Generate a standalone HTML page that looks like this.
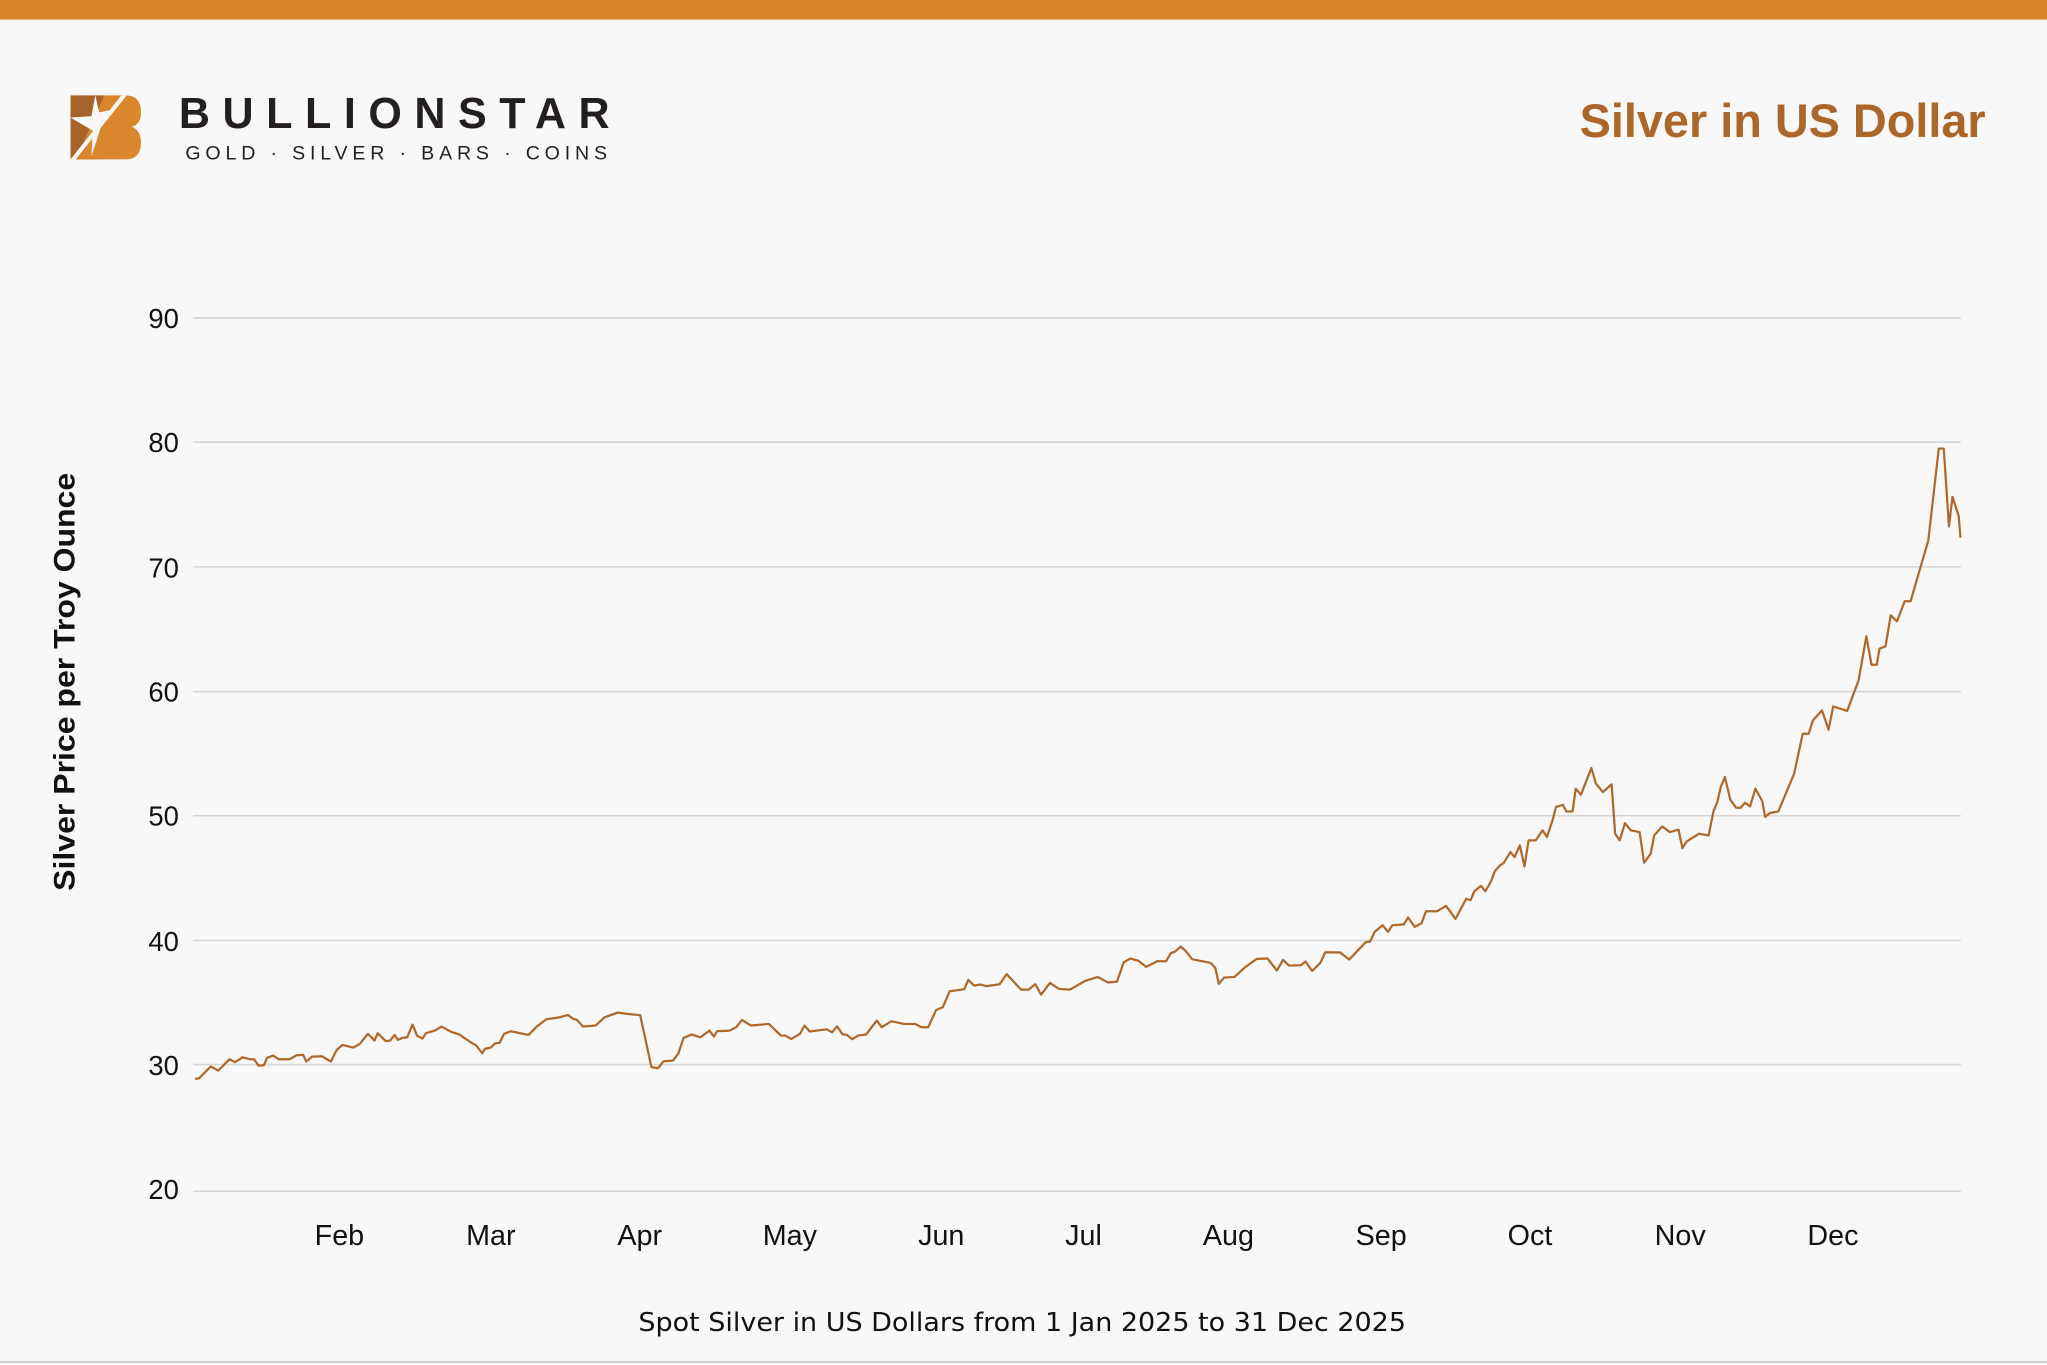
<!DOCTYPE html>
<html><head><meta charset="utf-8"><style>
html,body{margin:0;padding:0;background:#f8f8f8;}
svg{display:block;}
</style></head><body>
<svg width="2047" height="1365" viewBox="0 0 1568 1045" preserveAspectRatio="none" xmlns="http://www.w3.org/2000/svg">
<rect x="0" y="0" width="1568" height="1045" fill="#f8f8f8"/>
<rect x="0" y="0" width="1568" height="15" fill="#d9852a"/>
<rect x="0" y="1042" width="1568" height="1.5" fill="#cfcfcf"/>
<g>
<path d="M54,73 L80,73 L80,122 L54,122 Z" fill="#a8632a"/>
<path d="M80,73 L96,73 Q108,73 108,86 Q108,95 101,97 Q108,100 108,109 Q108,122 96,122 L58,122 Z" fill="#d9862c"/>
<path d="M54,122 L58,122 L97,73 L93,73 Z" fill="#f8f8f8"/>
<path d="M73,73 L76,86 L86,84 L78,95 L70,120 L71,100 L54,90 L70,89 Z" fill="#f8f8f8"/>
<text x="137" y="98" font-family="Liberation Sans, sans-serif" font-weight="bold" font-size="33" fill="#231f20" textLength="330" lengthAdjust="spacing">BULLIONSTAR</text>
<text x="142" y="122" font-family="Liberation Sans, sans-serif" font-size="15" fill="#231f20" textLength="323" lengthAdjust="spacing">GOLD · SILVER · BARS · COINS</text>
</g>
<text x="1521" y="105" text-anchor="end" font-family="Liberation Sans, sans-serif" font-weight="bold" font-size="36" fill="#ab6629" textLength="311" lengthAdjust="spacingAndGlyphs">Silver in US Dollar</text>
<g stroke="#d6d6d6" stroke-width="1.2">
<line x1="148" y1="243.5" x2="1502" y2="243.5"/>
<line x1="148" y1="338.5" x2="1502" y2="338.5"/>
<line x1="148" y1="434" x2="1502" y2="434"/>
<line x1="148" y1="529.5" x2="1502" y2="529.5"/>
<line x1="148" y1="624.5" x2="1502" y2="624.5"/>
<line x1="148" y1="720" x2="1502" y2="720"/>
<line x1="148" y1="815" x2="1502" y2="815"/>
<line x1="148" y1="912" x2="1502" y2="912"/>
</g>
<g font-family="Liberation Sans Narrow, Liberation Sans, sans-serif" font-size="21" fill="#111" text-anchor="end">
<text x="137" y="251">90</text>
<text x="137" y="346">80</text>
<text x="137" y="442">70</text>
<text x="137" y="537">60</text>
<text x="137" y="632">50</text>
<text x="137" y="728">40</text>
<text x="137" y="823">30</text>
<text x="137" y="918">20</text>
</g>
<g font-family="Liberation Sans Narrow, Liberation Sans, sans-serif" font-size="22" fill="#111" text-anchor="middle">
<text x="260" y="953">Feb</text>
<text x="376" y="953">Mar</text>
<text x="490" y="953">Apr</text>
<text x="605" y="953">May</text>
<text x="721" y="953">Jun</text>
<text x="830" y="953">Jul</text>
<text x="941" y="953">Aug</text>
<text x="1058" y="953">Sep</text>
<text x="1172" y="953">Oct</text>
<text x="1287" y="953">Nov</text>
<text x="1404" y="953">Dec</text>
</g>
<text transform="translate(57,522) rotate(-90)" text-anchor="middle" font-family="Liberation Sans, sans-serif" font-weight="bold" font-size="23" fill="#111" textLength="320" lengthAdjust="spacingAndGlyphs">Silver Price per Troy Ounce</text>
<text x="783" y="1019" text-anchor="middle" font-family="DejaVu Sans, sans-serif" font-size="19.5" fill="#111" textLength="588" lengthAdjust="spacingAndGlyphs">Spot Silver in US Dollars from 1 Jan 2025 to 31 Dec 2025</text>
<polyline fill="none" stroke="#b0672a" stroke-width="1.7" stroke-linejoin="round" points="
149.4,826 152.5,825.5 161.4,816.5 167.2,819.6 175.8,810.9 179.9,813.2 186,809.4 191.2,810.9 194.6,810.9 198,815.8 202.1,815.5 204.5,809.9 209.3,808.1 213.4,810.9 222,810.9 227.1,807.9 232.2,807.6 234.6,812.7 239.1,808.9 246.6,808.6 253.4,812.7 257.9,803.8 262.3,800 270.5,802 275.6,799.2 281.8,791.5 286.9,796.6 289.3,791 295.5,797.1 298.9,796.6 302.3,792.3 304.7,796.1 308.1,794.6 311.9,794.1 316,784.4 319.4,792.8 323.5,795.1 326.3,791 333.1,789 338.2,785.9 345.1,789.7 351.9,792 360.5,797.9 364.9,800.5 369.4,806.3 371.4,803 375.9,802 379.3,798.7 382.7,798.4 386.1,791.5 391.2,789.5 404.9,792.3 411.1,785.9 418.6,780.3 428.9,778.8 435,777 439.1,780 441.9,780.8 446.6,785.9 456.2,785.1 463.1,778.8 473.3,775.2 480.2,776.2 490.4,777.2 499,817 504.1,817.8 508.2,812.5 515.4,812 519.5,806.8 523.6,794.6 529.8,792 536.6,794.1 543.4,789 546.9,793.6 549.2,789.5 558.8,789 563.9,786.4 568.4,780.8 575.2,785.1 588.9,783.9 598.2,792.8 601.6,792.8 606,795.4 612.8,791.5
616.2,785.2 620.3,789.7 633.3,788 637.4,790.3 641.2,785.7 645.3,791.8 648.7,792.3 652.8,795.6 657.3,792.8 663.4,792 671.6,781.3 675.4,786.4 682.9,781.8 692.2,783.9 701,783.9 705.8,786.4 711,786.4 717.1,773.2 722.2,771.1 727.4,758.9 738.7,757.3 741.7,750.2 746.2,754.5 751.3,753.7 755.4,755 765.7,753.5 771.1,745.8 782.1,757.6 787.9,757.6 793,753.5 797.5,761.4 804.3,752.5 811.2,757.1 819.7,757.6 830.7,751.2 840.9,747.9 848.8,752.2 855.6,751.5 860.8,736.6 865.9,733.8 872.1,735.6 877.9,740.2 886.4,735.9 893.2,735.9 896.7,729.8 900.1,728.5 904.5,724.6 908.6,728.5 913.1,734.3 927.4,737.2 930.9,741 933.6,753.2 937.7,748.4 945.6,747.9 953.1,741 962.7,734.1 970.9,733.8 978.1,743 982.8,734.9 987.3,739.2 996.5,739 1000,736.1 1005.1,743.3 1011.2,737.4 1015.3,729 1026.6,729.2 1033.5,734.6 1046.1,721.3 1049.5,720.8 1053,713.4 1059.1,708.3 1063.2,713.4 1066.6,708.3 1075.2,707.8 1078.6,702.4 1083.7,709.6 1088.9,706.8 1092.3,697.6 1100.8,697.6 1107.7,693.5 1114.9,703.5 1123.1,688.1 1126.5,689.2 1129.2,682.5 1134.4,678.2 1137.8,682.3 1142.2,674.6 1145,667
1149,662.5 1151.7,660.8 1157,652.3 1160.2,656.2 1164.2,647.2 1167.7,663.3 1170.9,643.4 1176.3,643.4 1181.6,635.7 1185,640.8 1189.6,626.8 1191.8,617.9 1197.1,616.1 1199.8,621.2 1204.6,621.2 1207,603.8 1211,608.4 1219,588 1222.5,600 1227.8,606.4 1234.5,600.5 1237.2,638.3 1240.7,643.4 1244.7,630.1 1249.2,635.7 1255.9,637 1259.4,660.5 1264.4,653.6 1267.1,639.6 1273.2,632.7 1279.1,637 1285.8,635.2 1288.7,649.3 1292,644.2 1301.3,638.3 1308.8,639.6 1312.5,621.2 1315.5,614 1318.1,602.5 1321.3,594.9 1325.4,612.2 1329.9,618.4 1333.4,618.4 1336.6,614.5 1340.6,617.3 1344.6,603.8 1349.9,613.3 1352.1,625.5 1355.5,622.5 1362.2,621.2 1374.3,592.3 1380.9,561.7 1385.5,561.7 1388.7,551.5 1395.6,543.8 1400.7,558.6 1404.2,540.8 1414.9,544.3 1423.7,520.9 1429.6,487.1 1433.6,508.9 1437.6,508.9 1439.7,496.6 1444.3,494.8 1448.3,471.1 1453.1,475.7 1459,460.3 1463.5,460.3 1477.1,413.6 1485.1,343.4 1488.9,343.4 1492.9,402.9 1495.6,380.4 1500.4,395.2 1501.7,411.6"/>
</svg>
</body></html>
